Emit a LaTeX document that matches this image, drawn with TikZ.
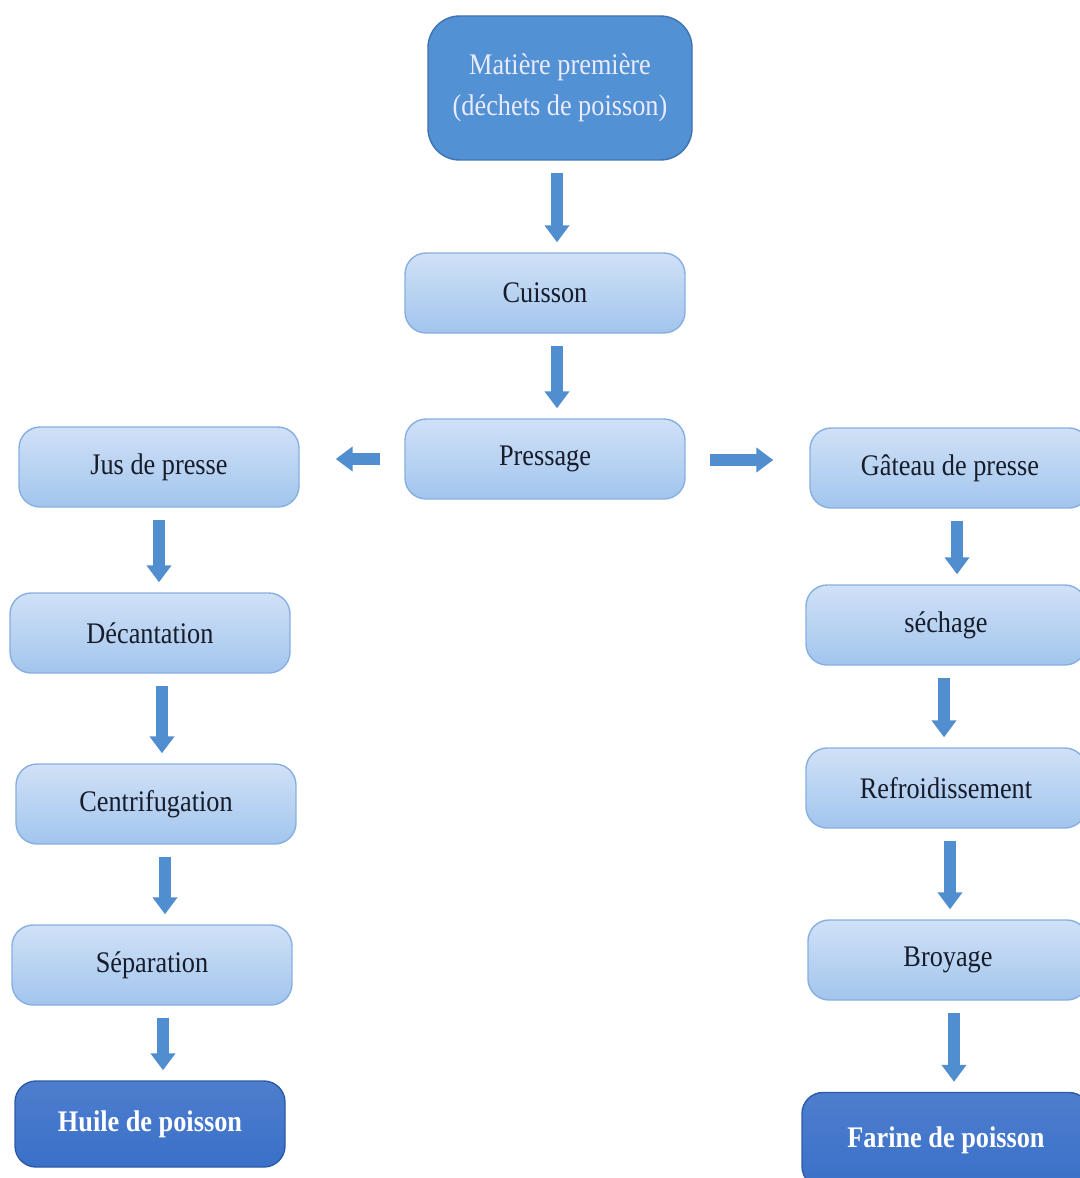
\documentclass[tikz,border=0pt]{standalone}
\usepackage{fontspec}
\setmainfont{Liberation Serif}[FakeStretch=0.88]
\usetikzlibrary{arrows.meta, positioning}
\definecolor{boxtop}   {RGB}{208,225,247}
\definecolor{boxbot}   {RGB}{162,197,237}
\definecolor{boxline}  {RGB}{135,175,225}
\definecolor{srcblue}  {RGB}{82,145,212}
\definecolor{srcline}  {RGB}{62,115,180}
\definecolor{endblue}  {RGB}{58,112,200}
\definecolor{endline}  {RGB}{45,90,170}
\definecolor{arrowblue}{RGB}{80,142,207}
\definecolor{darktext} {RGB}{22,28,42}

\tikzset{
  stepbox/.style={draw=boxline, top color=boxtop, bottom color=boxbot,
    rounded corners=6pt, minimum width=2.8cm, minimum height=0.8cm,
    font=\fontsize{8.5}{10}\selectfont, text=darktext},
  srcbox/.style={draw=srcline, fill=srcblue, rounded corners=9pt,
    minimum width=2.64cm, minimum height=1.44cm, align=center,
    font=\fontsize{8.5}{11.5}\selectfont, text=white!92!blue},
  endbox/.style={draw=endline, top color=endblue!90!white, bottom color=endblue,
    rounded corners=6pt, minimum width=2.7cm, minimum height=0.86cm,
    font=\fontsize{8.5}{10}\selectfont\bfseries, text=white},
  flowarrow/.style={line width=1.2mm, arrowblue,
    -{Triangle[width=2.4mm,length=1.7mm]},
    shorten <=0.12cm, shorten >=0.1cm},
  sidearrow/.style={flowarrow, shorten <=0.24cm, shorten >=0.36cm}
}

\begin{document}
\begin{tikzpicture}
  \useasboundingbox (0,0) rectangle (10.79,-11.78);

  % Centre column
  \node[srcbox] (mat) at (5.60,-0.88) {Matière première\\(déchets de poisson)};
  \node[stepbox] (cui) at (5.45,-2.93) {Cuisson};
  \node[stepbox] (pre) at (5.45,-4.59) {Pressage};

  % Left column (oil)
  \node[stepbox] (jus) at (1.59,-4.67) {Jus de presse};
  \node[stepbox] (dec) at (1.50,-6.33) {Décantation};
  \node[stepbox] (cen) at (1.56,-8.04) {Centrifugation};
  \node[stepbox] (sep) at (1.52,-9.65) {Séparation};
  \node[endbox]  (hui) at (1.50,-11.24) {Huile de poisson};

  % Right column (meal)
  \node[stepbox] (gat) at (9.50,-4.68) {Gâteau de presse};
  \node[stepbox] (sec) at (9.46,-6.25) {séchage};
  \node[stepbox] (ref) at (9.46,-7.88) {Refroidissement};
  \node[stepbox] (bro) at (9.48,-9.60) {Broyage};
  \node[endbox, minimum width=2.88cm, minimum height=0.95cm] (far) at (9.46,-11.40) {Farine de poisson};

  % Arrows
  \draw[flowarrow] (mat.south) ++(-0.03,0) coordinate (m1) -- (m1 |- cui.north);
  \draw[flowarrow] (cui.south) ++(0.12,0) coordinate (c1) -- (c1 |- pre.north);
  \draw[sidearrow] (pre.west) -- (pre.west -| jus.east);
  \draw[sidearrow] (pre.east) ++(0,-0.01) coordinate (p1) -- (p1 -| gat.west);

  \draw[flowarrow] (jus.south) -- (jus.south |- dec.north);
  \draw[flowarrow] (dec.south) ++(0.12,0) coordinate (d1) -- (d1 |- cen.north);
  \draw[flowarrow] (cen.south) ++(0.09,0) coordinate (e1) -- (e1 |- sep.north);
  \draw[flowarrow] (sep.south) ++(0.11,0) coordinate (s1) -- (s1 |- hui.north);

  \draw[flowarrow] (gat.south) ++(0.07,0) coordinate (g1) -- (g1 |- sec.north);
  \draw[flowarrow] (sec.south) ++(-0.02,0) coordinate (h1) -- (h1 |- ref.north);
  \draw[flowarrow] (ref.south) ++(0.04,0) coordinate (r1) -- (r1 |- bro.north);
  \draw[flowarrow] (bro.south) ++(0.06,0) coordinate (b1) -- (b1 |- far.north);
\end{tikzpicture}
\end{document}
